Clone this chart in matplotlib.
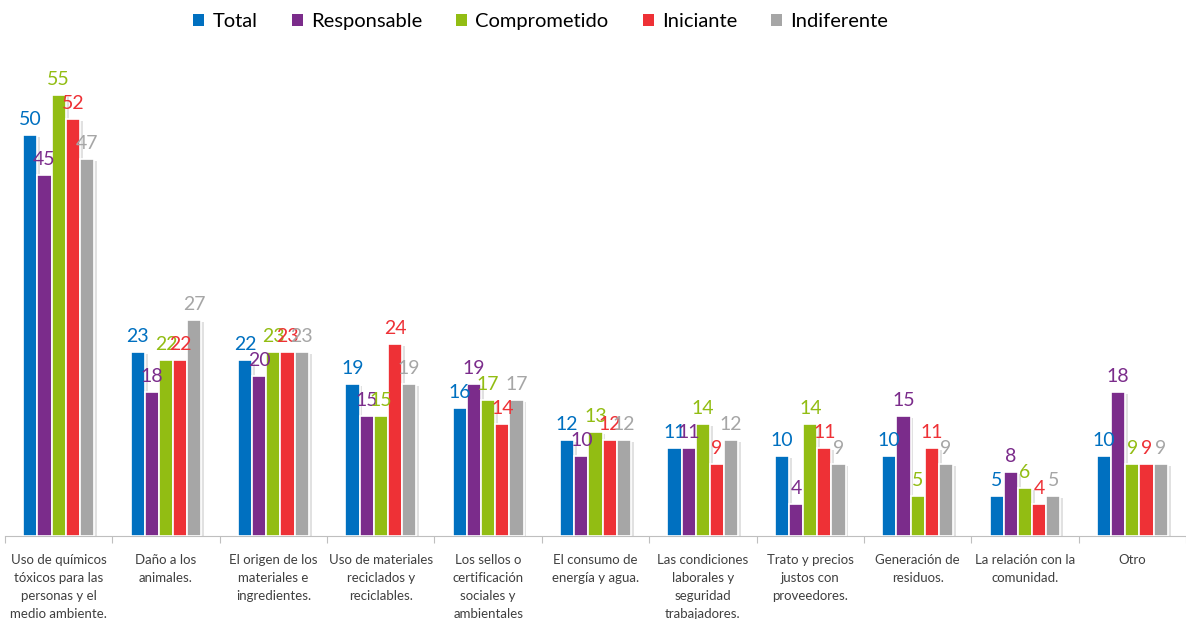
import matplotlib.pyplot as plt
import matplotlib.patheffects as pe
from matplotlib.patches import Patch
import numpy as np

plt.rcParams['font.family'] = ['Lato', 'DejaVu Sans']

categories = [
    'Uso de químicos\ntóxicos para las\npersonas y el\nmedio ambiente.',
    'Daño a los\nanimales.',
    'El origen de los\nmateriales e\ningredientes.',
    'Uso de materiales\nreciclados y\nreciclables.',
    'Los sellos o\ncertificación\nsociales y\nambientales',
    'El consumo de\nenergía y agua.',
    'Las condiciones\nlaborales y\nseguridad\ntrabajadores.',
    'Trato y precios\njustos con\nproveedores.',
    'Generación de\nresiduos.',
    'La relación con la\ncomunidad.',
    'Otro',
]
series = ['Total', 'Responsable', 'Comprometido', 'Iniciante', 'Indiferente']
total = [50, 23, 22, 19, 16, 12, 11, 10, 10, 5, 10]
responsable = [45, 18, 20, 15, 19, 10, 11, 4, 15, 8, 18]
comprometido = [55, 22, 23, 15, 17, 13, 14, 14, 5, 6, 9]
iniciante = [52, 22, 23, 24, 14, 12, 9, 11, 11, 4, 9]
indiferente = [47, 27, 23, 19, 17, 12, 12, 9, 9, 5, 9]
colors = ['#0070C0', '#7B2C8B', '#92BD13', '#EE3136', '#A6A6A6']

values = [total, responsable, comprometido, iniciante, indiferente]

fig = plt.figure(figsize=(11.86, 6.19), dpi=100)
ax = fig.add_axes([5 / 1186, 0.134, 1 - 5 / 1186, 0.777])

x = np.arange(len(categories))
w = 0.132
shadow = [pe.SimplePatchShadow(offset=(2, -1.5), shadow_rgbFace='#888888', alpha=0.25), pe.Normal()]
for j, (name, vals, c) in enumerate(zip(series, values, colors)):
    pos = x + (j - 2) * w
    bars = ax.bar(pos, vals, w, color=c, edgecolor='white', linewidth=1.2, zorder=3)
    for b in bars:
        b.set_path_effects(shadow)
    for px, v in zip(pos, vals):
        ax.annotate(f'{v:.0f}', (px, v), xytext=(0, 5), textcoords='offset points',
                    ha='center', va='bottom', color=c, fontsize=14, zorder=4)

ax.set_xlim(-0.5, len(categories) - 0.5)
ax.set_ylim(0, 60)
ax.set_yticks([])
for s in ['top', 'right', 'left']:
    ax.spines[s].set_visible(False)
ax.spines['bottom'].set_color('#BFBFBF')
ax.set_xticks(np.arange(-0.5, len(categories)), labels=[''] * (len(categories) + 1))
ax.tick_params(axis='x', length=5, color='#BFBFBF')
for i, lab in enumerate(categories):
    ax.text(i, -2.2, lab, ha='center', va='top', fontsize=9.5, color='#404040',
            linespacing=1.62)

handles = [Patch(facecolor=c, label=n) for n, c in zip(series, colors)]
fig.legend(handles=handles, loc='upper center', bbox_to_anchor=(0.456, 1.008), ncol=5,
           frameon=False, fontsize=14.5, handlelength=0.55, handleheight=0.55,
           handletextpad=0.4, columnspacing=1.7)

fig.savefig('out.png', dpi=100)
